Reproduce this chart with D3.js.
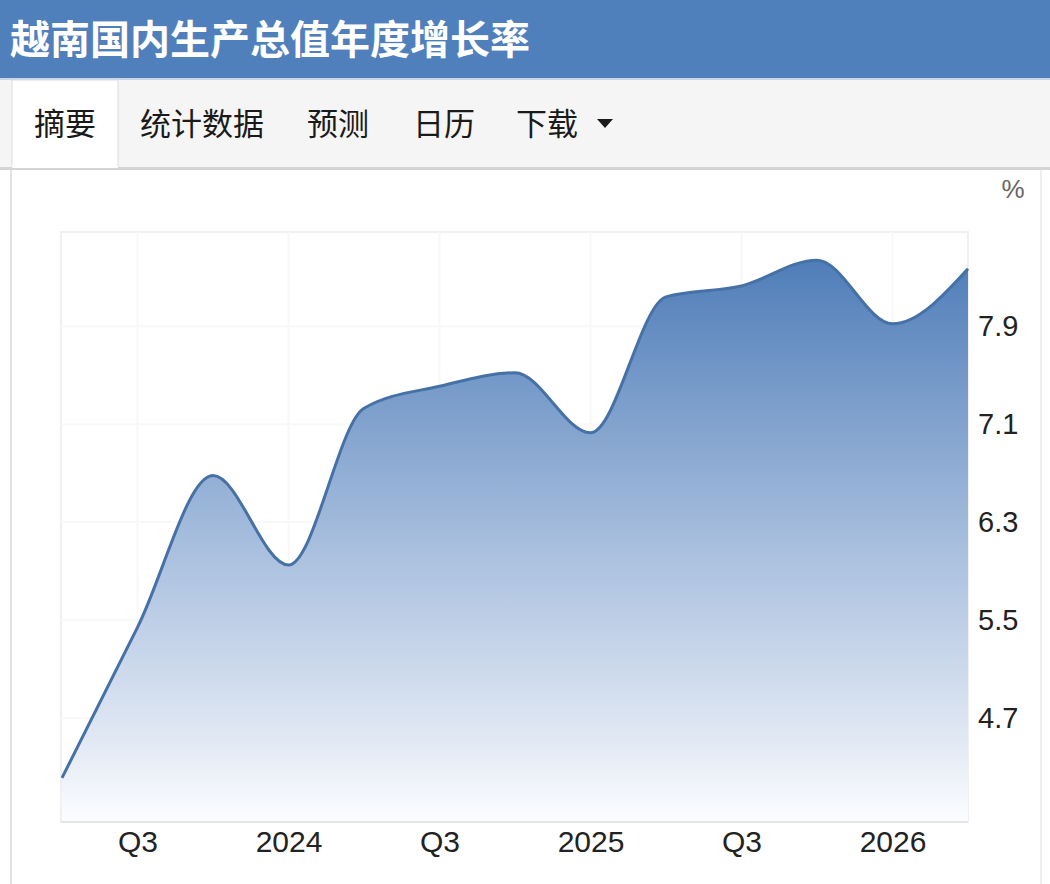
<!DOCTYPE html>
<html>
<head>
<meta charset="utf-8">
<script src="https://cdn.jsdelivr.net/npm/d3@7/dist/d3.min.js"></script>
<style>
  html, body { margin: 0; padding: 0; background: #fff; }
  svg { display: block; }
</style>
</head>
<body>
<div id="chart"></div>
<script>
// Vietnam GDP annual growth rate, quarterly (%)
const quarters = ['2023Q2', '2023Q3', '2023Q4', '2024Q1', '2024Q2', '2024Q3', '2024Q4',
                  '2025Q1', '2025Q2', '2025Q3', '2025Q4', '2026Q1', '2026Q2'];
const growth = [4.21, 5.44, 6.68, 5.95, 7.23, 7.41, 7.52, 7.03, 8.14, 8.23, 8.44, 7.92, 8.37];

const xTickIndex = [1, 3, 5, 7, 9, 11];
const xTickLabels = ['Q3', '2024', 'Q3', '2025', 'Q3', '2026'];
const yTicks = [4.7, 5.5, 6.3, 7.1, 7.9];

const titleText = '越南国内生产总值年度增长率';
const tabs = ['摘要', '统计数据', '预测', '日历', '下载'];
const tabX = [34, 140, 307, 413, 516];

const width = 1050;
const height = 884;
const plot = { left: 61, right: 968, top: 232, bottom: 822 };

const svg = d3.select('#chart')
  .append('svg')
  .attr('width', width)
  .attr('height', height)
  .style('font-family', '"Liberation Sans", Arial, sans-serif');

// Header bar
svg.append('rect')
  .attr('width', width)
  .attr('height', 78)
  .attr('fill', '#4f80bc');
svg.append('rect')
  .attr('y', 78)
  .attr('width', width)
  .attr('height', 2)
  .attr('fill', '#c9d6e8');
svg.append('text')
  .attr('x', 10)
  .attr('y', 54)
  .attr('fill', '#fff')
  .style('font-family', '"Noto Sans CJK SC", sans-serif')
  .style('font-size', '40px')
  .style('font-weight', 'bold')
  .text(titleText);

// Tab bar
svg.append('rect')
  .attr('y', 80)
  .attr('width', width)
  .attr('height', 88)
  .attr('fill', '#f5f5f5');
svg.append('rect')
  .attr('x', 12)
  .attr('y', 80)
  .attr('width', 106)
  .attr('height', 89)
  .attr('fill', '#fff')
  .attr('stroke', '#dcdcdc');
svg.append('rect')
  .attr('y', 167)
  .attr('width', width)
  .attr('height', 3)
  .attr('fill', '#d4d4d4');
svg.append('rect')
  .attr('x', 12)
  .attr('y', 166)
  .attr('width', 106)
  .attr('height', 2)
  .attr('fill', '#fff');

svg.selectAll('text.tab')
  .data(tabs)
  .enter()
  .append('text')
  .attr('class', 'tab')
  .attr('x', (d, i) => tabX[i])
  .attr('y', 135)
  .attr('fill', '#1a1a1a')
  .style('font-family', '"Noto Sans CJK SC", sans-serif')
  .style('font-size', '31px')
  .text(d => d);

// Dropdown caret next to the last tab
svg.append('path')
  .attr('d', 'M597,119 L613,119 L605,128 Z')
  .attr('fill', '#1a1a1a');

// Panel side borders
svg.append('line')
  .attr('x1', 11).attr('x2', 11)
  .attr('y1', 170).attr('y2', height)
  .attr('stroke', '#e2e2e2')
  .attr('stroke-width', 2);
svg.append('line')
  .attr('x1', 1041).attr('x2', 1041)
  .attr('y1', 170).attr('y2', height)
  .attr('stroke', '#eeeeee')
  .attr('stroke-width', 2);

// Scales
const x = d3.scaleLinear()
  .domain([0, quarters.length - 1])
  .range([plot.left + 1, plot.right]);

const y = d3.scaleLinear()
  .domain([3.85, 8.67])
  .range([plot.bottom, plot.top]);

// Plot frame and faint grid
svg.append('rect')
  .attr('x', plot.left)
  .attr('y', plot.top)
  .attr('width', plot.right - plot.left)
  .attr('height', plot.bottom - plot.top)
  .attr('fill', '#fff')
  .attr('stroke', '#f0f0f0')
  .attr('stroke-width', 2);

const grid = svg.append('g').attr('class', 'grid');
grid.selectAll('line.vgrid')
  .data(xTickIndex)
  .enter()
  .append('line')
  .attr('x1', d => x(d)).attr('x2', d => x(d))
  .attr('y1', plot.top).attr('y2', plot.bottom)
  .attr('stroke', '#f7f7f7')
  .attr('stroke-width', 2);
grid.selectAll('line.hgrid')
  .data(yTicks)
  .enter()
  .append('line')
  .attr('x1', plot.left).attr('x2', plot.right)
  .attr('y1', d => y(d)).attr('y2', d => y(d))
  .attr('stroke', '#f8f8f8')
  .attr('stroke-width', 2);

// Area gradient
const defs = svg.append('defs');
const grad = defs.append('linearGradient')
  .attr('id', 'areaFill')
  .attr('gradientUnits', 'userSpaceOnUse')
  .attr('x1', 0).attr('x2', 0)
  .attr('y1', plot.top).attr('y2', plot.bottom);
grad.append('stop').attr('offset', '0%').attr('stop-color', '#4777b5');
grad.append('stop').attr('offset', '55%').attr('stop-color', '#abc1df');
grad.append('stop').attr('offset', '85%').attr('stop-color', '#dfe7f3');
grad.append('stop').attr('offset', '100%').attr('stop-color', '#fcfdff');

const area = d3.area()
  .x((d, i) => x(i))
  .y0(plot.bottom)
  .y1(d => y(d))
  .curve(d3.curveMonotoneX);

const line = d3.line()
  .x((d, i) => x(i))
  .y(d => y(d))
  .curve(d3.curveMonotoneX);

svg.append('path')
  .datum(growth)
  .attr('d', area)
  .attr('fill', 'url(#areaFill)');

svg.append('path')
  .datum(growth)
  .attr('d', line)
  .attr('fill', 'none')
  .attr('stroke', '#4671a6')
  .attr('stroke-width', 3);

// Bottom axis line
svg.append('line')
  .attr('x1', plot.left).attr('x2', plot.right)
  .attr('y1', plot.bottom).attr('y2', plot.bottom)
  .attr('stroke', '#e4e4e4')
  .attr('stroke-width', 2);

// X axis labels
const xAxis = d3.axisBottom(x)
  .tickValues(xTickIndex)
  .tickFormat((d, i) => xTickLabels[i])
  .tickSize(0)
  .tickPadding(0);

const xg = svg.append('g')
  .attr('transform', `translate(0,${plot.bottom})`)
  .call(xAxis);
xg.select('.domain').remove();
xg.selectAll('text')
  .attr('dy', null)
  .attr('y', 30)
  .attr('fill', '#222')
  .style('font-size', '30px')
  .style('font-family', '"Liberation Sans", Arial, sans-serif');

// Y axis labels on the right
const yAxis = d3.axisRight(y)
  .tickValues(yTicks)
  .tickFormat(d3.format('.1f'))
  .tickSize(0)
  .tickPadding(0);

const yg = svg.append('g')
  .attr('transform', `translate(${plot.right + 10},0)`)
  .call(yAxis);
yg.select('.domain').remove();
yg.selectAll('text')
  .attr('fill', '#222')
  .style('font-size', '29px')
  .style('font-family', '"Liberation Sans", Arial, sans-serif');

// Unit label
svg.append('text')
  .attr('x', 1013)
  .attr('y', 198)
  .attr('text-anchor', 'middle')
  .attr('fill', '#666')
  .style('font-size', '26px')
  .text('%');
</script>
</body>
</html>
